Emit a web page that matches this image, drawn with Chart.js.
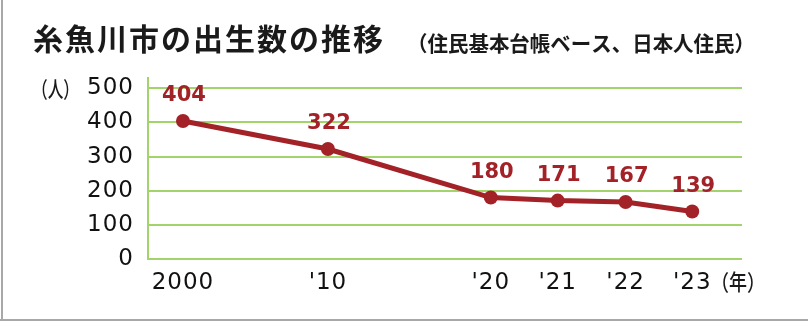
<!DOCTYPE html>
<html>
<head>
<meta charset="utf-8">
<script src="https://cdn.jsdelivr.net/npm/chart.js@4"></script>
<style>
  html, body { margin: 0; padding: 0; background: #fff; }
  #wrap { width: 808px; height: 322px; }
</style>
</head>
<body>
<div id="wrap"><canvas id="birthChart" width="808" height="322"></canvas></div>
<script>
// 年（軸ラベル）と出生数
const yearLabels = ['2000', "'10", "'20", "'21", "'22", "'23"];
const births = [404, 322, 180, 171, 167, 139];
// 横軸上の並び位置（元の図の間隔）
const yearSlots = [0, 2.155, 4.576, 5.57, 6.58, 7.57];
// 縦軸の目盛
const yTicks = [0, 100, 200, 300, 400, 500];

const titleText = '糸魚川市の出生数の推移';
const subText = '（住民基本台帳ベース、日本人住民）';

const RED = 'rgb(162, 34, 40)';
const GREEN = '#a3d46c';
const NUM_FONT = '"DejaVu Sans", sans-serif';
const JP_FONT = '"Noto Sans CJK JP", sans-serif';

// 枠線・タイトル・単位・数値ラベル
const decor = {
    id: 'decor',
    beforeDraw(chart) {
        const ctx = chart.ctx;
        ctx.save();
        ctx.fillStyle = '#fff';
        ctx.fillRect(0, 0, chart.width, chart.height);
        ctx.fillStyle = '#a8a8a8';
        ctx.fillRect(1, 0, 2, 321);
        ctx.fillRect(0, 319, chart.width, 2);
        ctx.restore();
        // 目盛の数字を少し広げる
        ctx.letterSpacing = '1px';
    },
    afterDraw(chart) {
        const ctx = chart.ctx;
        ctx.save();
        ctx.fillStyle = '#1a1a1a';
        ctx.textBaseline = 'middle';
        ctx.textAlign = 'left';
        ctx.font = 'bold 30px ' + JP_FONT;
        ctx.letterSpacing = '2px';
        ctx.fillText(titleText, 33, 39, 362);
        ctx.letterSpacing = '0px';
        ctx.font = 'bold 21px ' + JP_FONT;
        ctx.fillText(subText, 407, 43, 348);
        ctx.font = '500 22px ' + JP_FONT;
        ctx.fillText('（人）', 32, 89, 47);
        ctx.fillText('（年）', 711, 282, 54);

        // 数値ラベル
        const meta = chart.getDatasetMeta(0);
        ctx.fillStyle = RED;
        ctx.textAlign = 'center';
        ctx.font = 'bold 21px ' + NUM_FONT;
        meta.data.forEach((pt, i) => {
            ctx.fillText(String(births[i]), pt.x + 1, pt.y - 25);
        });
        ctx.restore();
    }
};

const ctx = document.getElementById('birthChart').getContext('2d');
new Chart(ctx, {
    type: 'line',
    data: {
        datasets: [{
            data: births.map((v, i) => ({ x: yearSlots[i], y: v })),
            borderColor: RED,
            backgroundColor: RED,
            borderWidth: 5,
            pointRadius: 7,
            pointHoverRadius: 7,
            pointBorderWidth: 0,
            tension: 0,
            fill: false
        }]
    },
    options: {
        responsive: false,
        animation: false,
        layout: { padding: { top: 78, right: 66, left: 0, bottom: 0 } },
        plugins: {
            legend: { display: false },
            tooltip: { enabled: false },
            title: { display: false }
        },
        scales: {
            x: {
                type: 'linear',
                min: -0.52,
                max: 8.31,
                afterBuildTicks(scale) {
                    scale.ticks = yearSlots.map(v => ({ value: v }));
                },
                afterFit(scale) { scale.height = 63; },
                grid: { display: false, drawTicks: false },
                border: { display: false },
                ticks: {
                    autoSkip: false,
                    maxRotation: 0,
                    padding: 10,
                    color: '#111',
                    font: { family: NUM_FONT, size: 23 },
                    callback: (v, i) => yearLabels[i]
                }
            },
            y: {
                min: 0,
                max: 530,
                afterBuildTicks(scale) {
                    scale.ticks = yTicks.map(v => ({ value: v }));
                },
                afterFit(scale) { scale.width = 148; },
                grid: { color: GREEN, lineWidth: 2, drawTicks: false },
                border: { display: true, color: GREEN, width: 2 },
                ticks: {
                    padding: 14,
                    color: '#111',
                    font: { family: NUM_FONT, size: 23 }
                }
            }
        }
    },
    plugins: [decor]
});
</script>
</body>
</html>
